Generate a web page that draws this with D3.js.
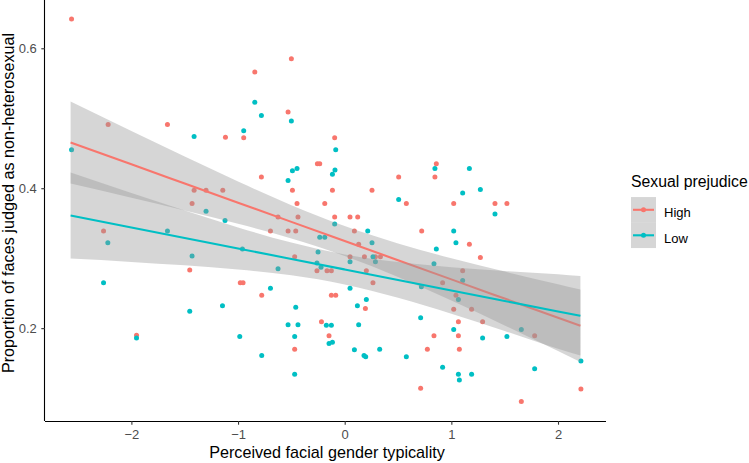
<!DOCTYPE html>
<html>
<head>
<meta charset="utf-8">
<script src="https://cdn.jsdelivr.net/npm/d3@7"></script>
<style>
  html, body { margin: 0; padding: 0; background: #fff; }
  svg { display: block; font-family: "Liberation Sans", Arial, sans-serif; }
</style>
</head>
<body>
<svg id="chart" width="749" height="463"></svg>
<script>
// ---- Data ----
const groups = ["High", "Low"];
const groupColors = ["#F8766D", "#00BFC4"];

const highX = [-2.561,-2.218,-1.662,-1.118,-1.412,-1.300,-1.143,-1.431,-2.261,-1.453,-1.952,-0.500,-0.843,-0.531,-0.947,-0.094,-0.256,-0.234,-0.781,0.506,-0.490,-0.115,0.256,-0.447,-0.187,0.578,-0.625,-0.438,-0.094,0.050,0.122,-0.696,-0.531,-0.459,0.091,0.722,0.131,-0.469,0.050,0.185,0.288,0.335,-0.260,-0.166,-0.125,0.203,0.265,-0.979,-0.953,-0.778,-0.125,-0.084,0.194,-0.218,-0.147,-0.469,0.775,0.712,0.859,0.846,1.022,1.409,1.521,1.169,1.272,1.106,0.918,1.043,1.022,1.190,1.066,1.293,0.837,1.066,1.781,1.075,2.215,1.656];
const highY = [0.642,0.491,0.491,0.473,0.397,0.397,0.397,0.378,0.339,0.283,0.190,0.585,0.566,0.509,0.472,0.472,0.435,0.435,0.416,0.416,0.397,0.397,0.397,0.378,0.378,0.378,0.359,0.359,0.359,0.359,0.359,0.339,0.339,0.339,0.339,0.339,0.320,0.302,0.302,0.302,0.302,0.302,0.282,0.282,0.282,0.282,0.265,0.265,0.265,0.247,0.247,0.247,0.228,0.209,0.189,0.170,0.170,0.114,0.435,0.416,0.378,0.378,0.378,0.320,0.301,0.282,0.265,0.247,0.227,0.227,0.209,0.209,0.189,0.189,0.189,0.170,0.113,0.095];

const lowX = [-1.412,-2.561,-1.300,-1.122,-1.662,-2.221,-1.431,-2.261,-1.146,-1.453,-1.952,-0.984,-0.843,-0.781,-0.500,-0.947,-0.084,-0.490,-0.447,-0.091,-0.115,-0.531,0.506,-0.094,0.216,-0.234,-0.187,0.256,-0.959,-0.250,0.265,0.050,0.288,-0.260,-0.222,-0.625,0.719,-0.696,0.050,0.203,0.119,-0.459,0.712,-0.531,-0.438,-0.172,-0.125,0.131,-0.469,-0.147,-0.115,0.091,0.328,-0.778,0.181,0.197,0.578,-0.469,0.846,1.169,1.106,1.272,1.409,1.022,1.043,0.859,0.837,1.106,1.066,1.022,1.656,1.293,1.521,2.215,0.918,1.781,1.066,1.190,1.075];
const lowY = [0.474,0.455,0.367,0.354,0.339,0.322,0.303,0.265,0.232,0.224,0.186,0.188,0.523,0.504,0.496,0.482,0.455,0.425,0.428,0.426,0.420,0.411,0.384,0.349,0.339,0.330,0.330,0.322,0.313,0.309,0.302,0.295,0.295,0.293,0.287,0.285,0.259,0.257,0.257,0.241,0.232,0.230,0.215,0.205,0.205,0.204,0.204,0.205,0.188,0.178,0.180,0.169,0.170,0.161,0.161,0.159,0.159,0.134,0.428,0.428,0.393,0.398,0.363,0.339,0.322,0.313,0.292,0.268,0.241,0.198,0.198,0.186,0.188,0.153,0.144,0.142,0.134,0.134,0.126];

// fitted lines and confidence bands
const fitX   = [-2.57,-2,-1.5,-1,-0.5,0,0.5,1,1.5,2,2.21];
const highFit = [0.4653,0.4341,0.4067,0.3793,0.3519,0.3245,0.2971,0.2697,0.2423,0.2149,0.2034];
const highLo  = [0.4066,0.3864,0.3682,0.3491,0.3280,0.3031,0.2732,0.2395,0.2038,0.1672,0.1517];
const highHi  = [0.5240,0.4818,0.4452,0.4095,0.3758,0.3459,0.3210,0.2999,0.2808,0.2626,0.2551];
const lowFit  = [0.3610,0.3439,0.3289,0.3139,0.2989,0.2839,0.2689,0.2539,0.2389,0.2239,0.2176];
const lowLo   = [0.2995,0.2947,0.2898,0.2839,0.2755,0.2624,0.2434,0.2206,0.1960,0.1706,0.1608];
const lowHi   = [0.4225,0.3931,0.3680,0.3439,0.3223,0.3054,0.2944,0.2872,0.2818,0.2772,0.2744];

const xTicks = [-2,-1,0,1,2];
const yTicks = [0.2,0.4,0.6];
const xTitle = "Perceived facial gender typicality";
const yTitle = "Proportion of faces judged as non-heterosexual";
const legendTitle = "Sexual prejudice";

// ---- Drawing ----
const svg = d3.select("#chart");
const panel = {left: 45, right: 606, top: 0, bottom: 421};

const x = d3.scaleLinear().domain([-2.81, 2.45]).range([panel.left, panel.right]);
const y = d3.scaleLinear().domain([0.0673, 0.669]).range([panel.bottom, panel.top]);

const pts = [
  {x: highX, y: highY, color: groupColors[0]},
  {x: lowX,  y: lowY,  color: groupColors[1]}
];

// points
pts.forEach(g => {
  svg.append("g").selectAll("circle")
    .data(g.x.map((v, i) => [v, g.y[i]]))
    .join("circle")
    .attr("cx", d => x(d[0]))
    .attr("cy", d => y(d[1]))
    .attr("r", 2.5)
    .attr("fill", g.color);
});

// smooths: ribbon then line, per group
const smooths = [
  {fit: highFit, lo: highLo, hi: highHi, color: groupColors[0]},
  {fit: lowFit,  lo: lowLo,  hi: lowHi,  color: groupColors[1]}
];
const area = d3.area().x(d => x(d.x)).y0(d => y(d.lo)).y1(d => y(d.hi)).curve(d3.curveMonotoneX);
const line = d3.line().x(d => x(d.x)).y(d => y(d.f)).curve(d3.curveMonotoneX);
smooths.forEach(s => {
  const rows = fitX.map((v, i) => ({x: v, lo: s.lo[i], hi: s.hi[i], f: s.fit[i]}));
  svg.append("path").datum(rows).attr("d", area)
    .attr("fill", "#999999").attr("fill-opacity", 0.4);
  svg.append("path").datum(rows).attr("d", line)
    .attr("fill", "none").attr("stroke", s.color).attr("stroke-width", 2.1);
});

// axes
const xAxis = svg.append("g").attr("transform", `translate(0,${panel.bottom})`)
  .call(d3.axisBottom(x).tickValues(xTicks).tickFormat(d3.format("d")).tickSize(3.7).tickPadding(5.5));
const yAxis = svg.append("g").attr("transform", `translate(${panel.left},0)`)
  .call(d3.axisLeft(y).tickValues(yTicks).tickFormat(d3.format(".1f")).tickSize(3.7).tickPadding(4.5));
[xAxis, yAxis].forEach(a => {
  a.select(".domain").attr("stroke", "#000").attr("stroke-width", 1.1);
  a.selectAll(".tick line").attr("stroke", "#333").attr("stroke-width", 1.1);
  a.selectAll(".tick text").attr("fill", "#4d4d4d").style("font-size", "13px")
    .style("font-family", "'Liberation Sans', Arial, sans-serif");
});
xAxis.select(".domain").attr("d", `M${panel.left},0.5H${panel.right}`);
yAxis.select(".domain").attr("d", `M-0.5,${panel.top}V${panel.bottom}`);

// axis titles
svg.append("text").attr("x", 327).attr("y", 458).attr("text-anchor", "middle")
  .style("font-size", "16.2px").attr("fill", "#000").text(xTitle);
svg.append("text").attr("transform", "translate(13.5,203) rotate(-90)").attr("text-anchor", "middle")
  .style("font-size", "16.2px").attr("fill", "#000").text(yTitle);

// legend
const lg = svg.append("g");
lg.append("text").attr("x", 631).attr("y", 187).style("font-size", "15.8px").attr("fill", "#000").text(legendTitle);
groups.forEach((name, i) => {
  const cy = 209.8 + i * 25.5;
  lg.append("rect").attr("x", 631).attr("y", cy - 12.75).attr("width", 25).attr("height", 25.5)
    .attr("fill", "#999999").attr("fill-opacity", 0.4);
  lg.append("line").attr("x1", 633).attr("x2", 654).attr("y1", cy).attr("y2", cy)
    .attr("stroke", groupColors[i]).attr("stroke-width", 2.1);
  lg.append("circle").attr("cx", 643.5).attr("cy", cy).attr("r", 2.5).attr("fill", groupColors[i]);
  lg.append("text").attr("x", 664).attr("y", cy + 7.6).style("font-size", "13px").attr("fill", "#000").text(name);
});
</script>
</body>
</html>
